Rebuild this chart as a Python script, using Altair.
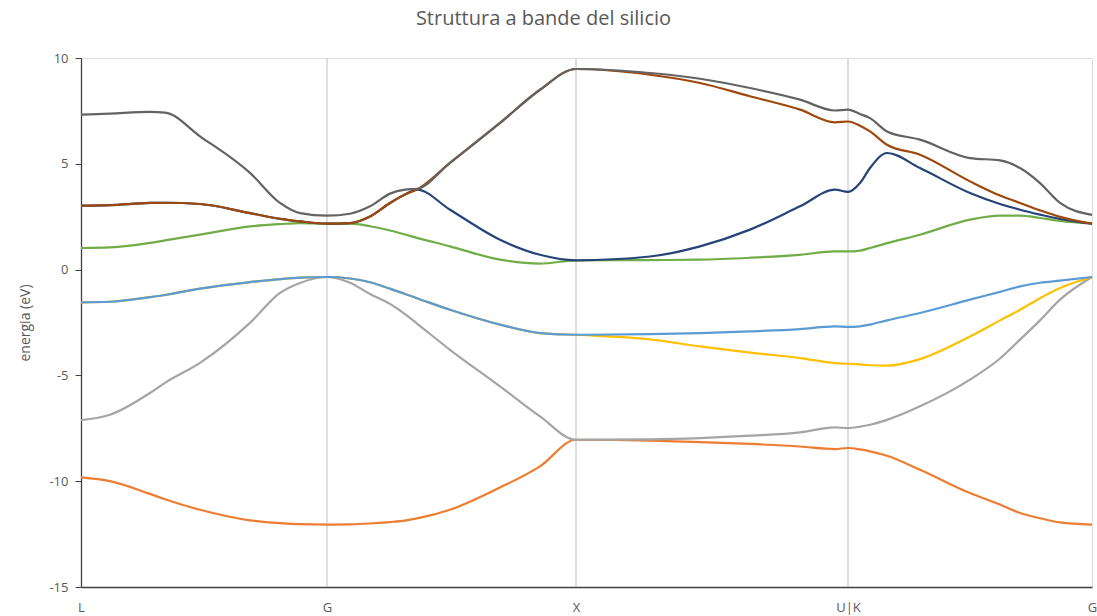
import altair as alt
import pandas as pd

# Path coordinate along L - G - X - U|K - G
k = [0.00, 0.29, 0.69, 0.84, 1.19, 1.69, 1.99, 2.19, 2.46, 2.69, 2.89, 3.09, 3.24,
     3.36, 3.69, 4.19, 4.59, 4.95, 5.69, 6.19, 6.69, 7.19, 7.54, 7.67, 7.79,
     7.89, 8.06, 8.39, 8.89, 9.19, 9.39, 9.59, 9.79, 10.11]

# High-symmetry points
point_pos = [0.00, 2.46, 4.95, 7.67, 10.11]
point_lab = ["L", "G", "X", "U|K", "G"]

# Energies (eV) of the eight bands at each k
band1 = [-9.82, -10.0, -10.6, -10.85, -11.35, -11.85, -11.98, -12.03, -12.05, -12.04,
         -12.0, -11.93, -11.86, -11.76, -11.35, -10.3, -9.3, -8.04, -8.08, -8.15,
         -8.24, -8.36, -8.48, -8.43, -8.5, -8.59, -8.8, -9.46, -10.56, -11.1,
         -11.5, -11.75, -11.95, -12.05]
band2 = [-7.11, -6.86, -5.83, -5.35, -4.41, -2.52, -1.1, -0.63, -0.35, -0.62,
         -1.15, -1.62, -2.1, -2.55, -3.79, -5.52, -6.94, -8.04, -8.02, -7.96,
         -7.85, -7.69, -7.46, -7.49, -7.42, -7.33, -7.1, -6.46, -5.2, -4.2,
         -3.31, -2.4, -1.42, -0.35]
band3 = [-1.55, -1.52, -1.3, -1.2, -0.9, -0.59, -0.45, -0.38, -0.35, -0.42,
         -0.6, -0.9, -1.15, -1.35, -1.9, -2.6, -3.0, -3.08, -3.3, -3.63,
         -3.92, -4.18, -4.42, -4.45, -4.48, -4.52, -4.54, -4.23, -3.16, -2.4,
         -1.9, -1.35, -0.87, -0.35]
band4 = [-1.55, -1.52, -1.3, -1.2, -0.9, -0.59, -0.45, -0.38, -0.35, -0.42,
         -0.6, -0.9, -1.15, -1.35, -1.9, -2.6, -3.0, -3.08, -3.05, -3.0,
         -2.92, -2.81, -2.68, -2.71, -2.68, -2.6, -2.4, -2.05, -1.42, -1.05,
         -0.79, -0.62, -0.52, -0.35]
band5 = [1.02, 1.05, 1.26, 1.38, 1.65, 2.04, 2.15, 2.2, 2.17, 2.17,
         2.05, 1.85, 1.66, 1.5, 1.1, 0.47, 0.28, 0.44, 0.45, 0.47,
         0.56, 0.7, 0.86, 0.86, 0.9, 1.02, 1.25, 1.65, 2.36, 2.55,
         2.55, 2.44, 2.3, 2.17]
band6 = [3.02, 3.05, 3.15, 3.16, 3.1, 2.67, 2.4, 2.28, 2.17, 2.2,
         2.51, 3.15, 3.55, 3.78, 2.83, 1.41, 0.7, 0.44, 0.62, 1.1,
         1.89, 2.99, 3.78, 3.67, 4.09, 4.8, 5.51, 4.8, 3.62, 3.1,
         2.83, 2.6, 2.39, 2.17]
band7 = [3.02, 3.05, 3.15, 3.16, 3.1, 2.67, 2.4, 2.28, 2.17, 2.2,
         2.51, 3.15, 3.55, 3.78, 5.04, 6.93, 8.5, 9.48, 9.21, 8.82,
         8.19, 7.56, 6.96, 7.0, 6.8, 6.53, 5.9, 5.43, 4.17, 3.5,
         3.15, 2.8, 2.49, 2.17]
band8 = [7.32, 7.37, 7.45, 7.42, 6.3, 4.57, 3.15, 2.67, 2.55, 2.64,
         2.99, 3.59, 3.78, 3.82, 5.04, 6.93, 8.5, 9.48, 9.29, 9.02,
         8.58, 8.03, 7.52, 7.56, 7.35, 7.16, 6.53, 6.14, 5.27, 5.16,
         4.8, 4.09, 3.15, 2.59]

bands = [band1, band2, band3, band4, band5, band6, band7, band8]
band_names = [f"banda {i + 1}" for i in range(len(bands))]
band_colors = ["#ED7D31", "#A5A5A5", "#FFC000", "#5B9BD5",
               "#70AD47", "#264478", "#9E480E", "#636363"]

rows = []
for name, values in zip(band_names, bands):
    for kk, e in zip(k, values):
        rows.append({"k": kk, "E": e, "banda": name})
df = pd.DataFrame(rows)

grid_df = pd.DataFrame({"k": point_pos[1:-1]})

# Label lookup: pick the name of the matching high-symmetry point
label_expr = "".join(
    f"abs(datum.value - {p}) < 0.01 ? '{l}' : " for p, l in zip(point_pos, point_lab)
) + "''"

x_scale = alt.Scale(domain=[point_pos[0], point_pos[-1]], nice=False, zero=False)
y_scale = alt.Scale(domain=[-15, 10], nice=False)

grid = alt.Chart(grid_df).mark_rule(color="#BFBFBF", strokeWidth=1).encode(
    x=alt.X("k:Q", scale=x_scale)
)

lines = alt.Chart(df).mark_line(interpolate="monotone", strokeWidth=2.2).encode(
    x=alt.X(
        "k:Q",
        scale=x_scale,
        axis=alt.Axis(
            values=point_pos,
            labelExpr=label_expr,
            labelOverlap=False,
            labelBound=False,
            labelFlush=False,
            title=None,
            grid=False,
            ticks=False,
            labelPadding=14,
            labelFontSize=13,
            labelColor="#595959",
            labelFont="Open Sans",
            domainColor="#404040",
            domainWidth=1.3,
        ),
    ),
    y=alt.Y(
        "E:Q",
        scale=y_scale,
        axis=alt.Axis(
            values=[10, 5, 0, -5, -10, -15],
            labelExpr="'' + datum.value",
            title="energia (eV)",
            titleFont="Open Sans",
            titleFontSize=14,
            titleFontWeight="normal",
            titleColor="#595959",
            titlePadding=16,
            grid=False,
            tickSize=6,
            tickColor="#404040",
            labelPadding=7,
            labelFontSize=13,
            labelColor="#595959",
            labelFont="Open Sans",
            domainColor="#404040",
            domainWidth=1.3,
        ),
    ),
    color=alt.Color("banda:N", scale=alt.Scale(domain=band_names, range=band_colors), legend=None),
    detail="banda:N",
)

chart = (
    alt.layer(grid, lines)
    .properties(
        width=1011,
        height=529,
        title=alt.TitleParams(
            "Struttura a bande del silicio",
            font="Open Sans",
            fontSize=20,
            fontWeight="normal",
            color="#595959",
            anchor="middle",
            offset=23,
            dx=-43,
        ),
        autosize=alt.AutoSizeParams(type="none"),
        padding={"left": 81, "top": 58, "right": 5, "bottom": 29},
    )
    .configure_view(stroke="#404040", strokeWidth=1.3)
    .configure(background="white")
)

chart.save("out.html", embed_options={"renderer": "svg", "actions": False})
